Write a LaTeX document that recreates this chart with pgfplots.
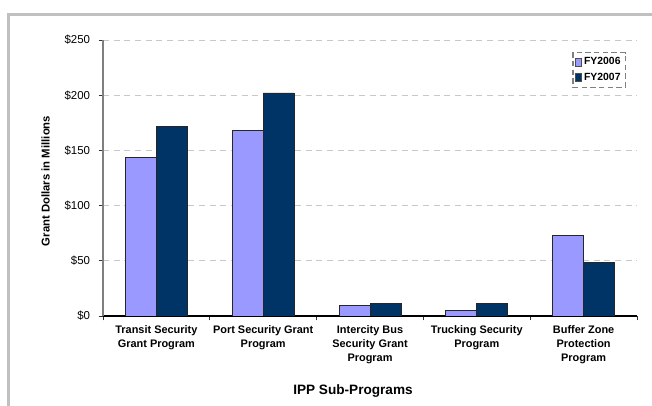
\documentclass[border=0pt]{standalone}
\usepackage{fontspec}
\setmainfont{Liberation Sans}
\usepackage{pgfplots}
\pgfplotsset{compat=1.18}

\definecolor{fyA}{HTML}{9999FF}
\definecolor{fyB}{HTML}{003366}
\definecolor{framegray}{HTML}{C0C0C0}
\definecolor{gridgray}{HTML}{C8C8C8}
\definecolor{axisgray}{HTML}{7F7F7F}

\begin{document}
\begin{tikzpicture}[x=0.75pt,y=0.75pt]
\useasboundingbox (0,0) rectangle (652,406);
% chart area frame (left and top edges)
\draw[framegray, line width=1.8pt] (8.3,-5) -- (8.3,391.5) -- (660,391.5);

\begin{axis}[
  at={(77.25pt,67.5pt)}, anchor=south west,
  scale only axis, width=400.5pt, height=207pt,
  xmin=-0.5, xmax=4.5, ymin=0, ymax=250,
  ybar=0pt, bar width=23.25pt,
  axis x line*=bottom, axis y line*=left,
  x axis line style={black, line width=0.8pt},
  y axis line style={axisgray, line width=0.9pt},
  tick align=outside, major tick length=3.2pt,
  every tick/.style={black!80, line width=0.7pt},
  ytick={0,50,...,250},
  yticklabels={\$0,\$50,\$100,\$150,\$200,\$250},
  yticklabel style={font=\fontsize{8.6}{10}\selectfont, xshift=-3pt},
  xtick={-0.5,0.5,...,4.5},
  xticklabels={},
  extra x ticks={0,1,2,3,4},
  extra x tick labels={{Transit Security\\Grant Program},{Port Security Grant\\Program},{Intercity Bus\\Security Grant\\Program},{Trucking Security\\Program},{Buffer Zone\\Protection\\Program}},
  extra x tick style={major tick length=0pt, grid=none},
  xticklabel style={align=center, font=\fontsize{8.2}{10.2}\selectfont\bfseries, yshift=-4pt},
  ymajorgrids,
  grid style={gridgray, line width=0.7pt, dash pattern=on 4.5pt off 3.5pt},
  legend style={at={(rel axis cs:0.879,0.957)}, anchor=north west,
    draw=gray, line width=1pt, dash pattern=on 4pt off 2.5pt,
    font=\fontsize{7.8}{9}\selectfont\bfseries,
    inner xsep=1.5pt, inner ysep=1.8pt, row sep=0.5pt,
    cells={anchor=west}},
  legend cell align=left,
]
\addplot[fill=fyA, draw=black!85, line width=0.6pt,
  legend image code/.code={\draw[fill=fyA, draw=black!70, solid, line width=0.4pt] (0pt,-2.8pt) rectangle (4.4pt,2.8pt);}]
  coordinates {(0,143.5) (1,168) (2,9.7) (3,5.2) (4,73.2)};
\addplot[fill=fyB, draw=black!85, line width=0.6pt,
  legend image code/.code={\draw[fill=fyB, draw=black!70, solid, line width=0.4pt] (0pt,-2.8pt) rectangle (4.4pt,2.8pt);}]
  coordinates {(0,171.5) (1,202) (2,11.5) (3,11.5) (4,48.8)};
\legend{FY2006,FY2007}
\end{axis}

\node[font=\fontsize{10.2}{12}\selectfont\bfseries] at (353,15.3) {IPP Sub-Programs};
\node[rotate=90, font=\fontsize{8.5}{10}\selectfont\bfseries] at (45.5,225) {Grant Dollars in Millions};
\end{tikzpicture}
\end{document}
